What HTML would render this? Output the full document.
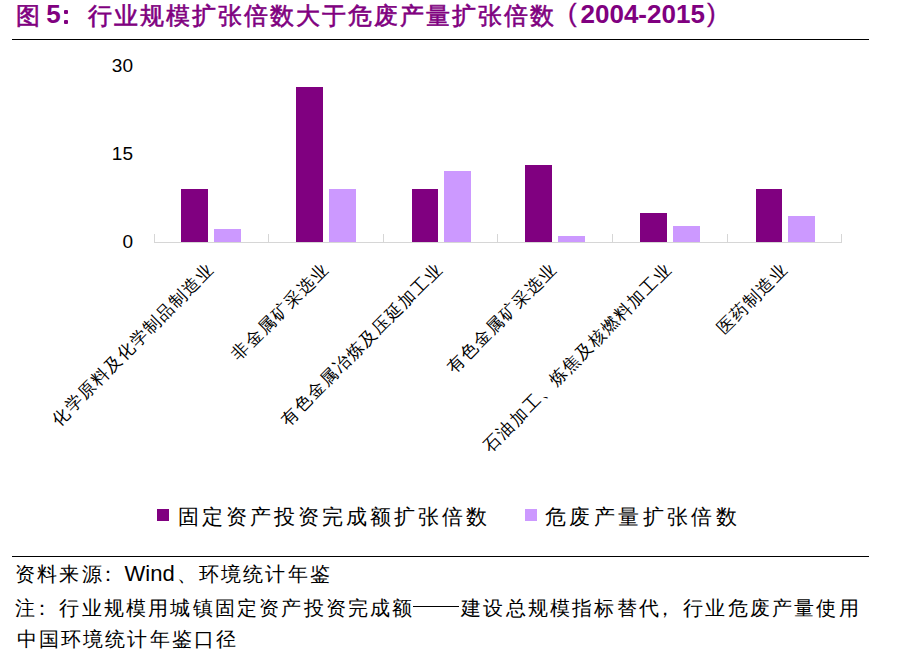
<!DOCTYPE html>
<html><head><meta charset="utf-8">
<style>
html,body{margin:0;padding:0;background:#fff;width:904px;height:654px;overflow:hidden;position:relative}
body{font-family:"Liberation Sans",sans-serif;color:#000}
.a{position:absolute;white-space:nowrap}
.tt{font-size:24px;line-height:24px;letter-spacing:2px;font-weight:normal;-webkit-text-stroke:0.6px #800080;color:#800080}
.tn{font-size:26px;line-height:26px;font-weight:bold;color:#800080}
.tp{font-size:26px;line-height:26px;color:#800080;-webkit-text-stroke:0.3px #800080}
.dot{width:4px;height:4px;background:#800080;border-radius:1px}
.hl{position:absolute;left:12px;width:857px;height:1px;background:#000}
.yl{position:absolute;right:771px;font-size:19px;line-height:18px;text-align:right}
.lab{position:absolute;font-size:17px;line-height:18px;letter-spacing:1.5px;transform-origin:100% 50%;transform:rotate(-45deg);white-space:nowrap}
.leg{position:absolute;top:505px;font-size:21px;line-height:24px;letter-spacing:3px}
.sq{position:absolute;top:509px;width:12px;height:12px}
.ft{position:absolute;left:15px;font-size:20px;line-height:22px;letter-spacing:2.2px}
</style></head><body>
<div class="a tt" style="left:15.5px;top:4px">图</div>
<div class="a tn" style="left:39px;top:1px">&nbsp;5</div>
<div class="a dot" style="left:64px;top:10px"></div><div class="a dot" style="left:64px;top:20px"></div>
<div class="a tt" style="left:87.5px;top:4px">行业规模扩张倍数大于危废产量扩张倍数</div>
<div class="a tp" style="left:568px;top:0px">(</div>
<div class="a tn" style="left:580.5px;top:1px">2004-2015</div>
<div class="a tp" style="left:707px;top:0px">)</div>
<div class="hl" style="top:39px"></div>

<div class="yl a" style="top:57px">30</div>
<div class="yl a" style="top:145px">15</div>
<div class="yl a" style="top:233px">0</div>

<svg class="a" style="left:0;top:0" width="904" height="300" viewBox="0 0 904 300">
<g fill="#800080">
<rect x="181" y="189" width="27" height="53"/>
<rect x="296" y="87" width="27" height="155"/>
<rect x="412" y="189" width="26" height="53"/>
<rect x="525" y="165" width="27" height="77"/>
<rect x="640" y="213" width="27" height="29"/>
<rect x="756" y="189" width="26" height="53"/>
</g>
<g fill="#CC99FF">
<rect x="214" y="229" width="27" height="13"/>
<rect x="329" y="189" width="27" height="53"/>
<rect x="444" y="171" width="27" height="71"/>
<rect x="558" y="236" width="27" height="6"/>
<rect x="673" y="226" width="27" height="16"/>
<rect x="788" y="216" width="27" height="26"/>
</g>
<g fill="#D6D6D6">
<rect x="154" y="242" width="688" height="1"/>
<rect x="154" y="234" width="1" height="8"/>
<rect x="268" y="234" width="1" height="8"/>
<rect x="383" y="234" width="1" height="8"/>
<rect x="497" y="234" width="1" height="8"/>
<rect x="612" y="234" width="1" height="8"/>
<rect x="727" y="234" width="1" height="8"/>
<rect x="841" y="234" width="1" height="8"/>
</g>
</svg>

<div class="lab" style="right:692px;top:256.5px">化学原料及化学制品制造业</div>
<div class="lab" style="right:578px;top:256.5px">非金属矿采选业</div>
<div class="lab" style="right:463px;top:256.5px">有色金属冶炼及压延加工业</div>
<div class="lab" style="right:349px;top:256.5px">有色金属矿采选业</div>
<div class="lab" style="right:234px;top:256.5px">石油加工、炼焦及核燃料加工业</div>
<div class="lab" style="right:119px;top:256.5px">医药制造业</div>

<div class="sq" style="left:157px;background:#800080"></div>
<div class="leg" style="left:178px">固定资产投资完成额扩张倍数</div>
<div class="sq" style="left:525px;background:#CC99FF"></div>
<div class="leg" style="left:545px;letter-spacing:3.4px">危废产量扩张倍数</div>

<div class="hl" style="top:556px"></div>
<div class="ft" style="top:563px">资料来源<span style="position:relative;left:-6px">：</span><span style="font-size:22px;letter-spacing:0;margin-left:-1.5px">Wind</span><span style="margin-left:2px">、</span>环境统计年鉴</div>
<div class="ft" style="top:597px;left:15px">注<span style="position:relative;left:-5px">：</span>行业规模用城镇固定资产投资完成额<span style="display:inline-block;width:46px;height:1px;background:#000;vertical-align:middle;margin-left:-1.5px;margin-right:2.1px;position:relative;top:-3px"></span>建设总规模指标替代<span style="position:relative;left:-6px">，</span>行业危废产量使用</div>
<div class="ft" style="top:628px;left:16.5px">中国环境统计年鉴口径</div>
</body></html>
